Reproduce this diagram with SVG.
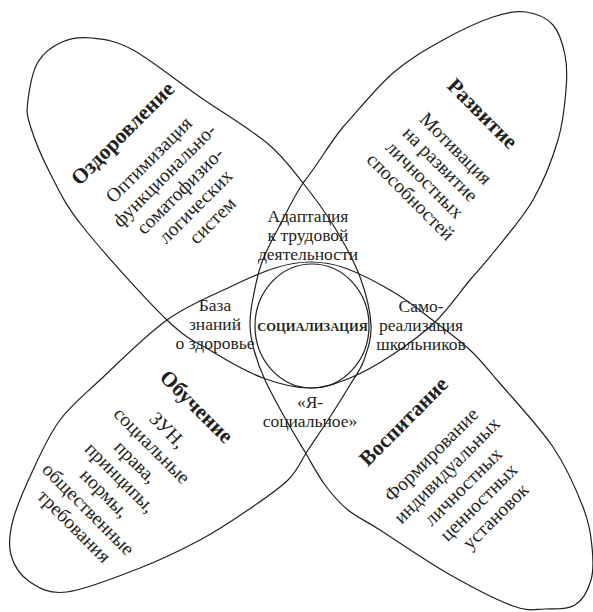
<svg xmlns="http://www.w3.org/2000/svg" width="593" height="612" viewBox="0 0 593 612">
<style>
.ol{fill:none;stroke:#231f20;stroke-width:1.2}
.t{font-family:"Liberation Serif","Times New Roman",serif;fill:#231f20;text-anchor:middle}
.h{font-size:21.5px;font-weight:bold}
.b{font-size:19.5px}
.c{font-size:17.5px}
.s{font-size:12.5px;font-weight:bold}
</style>
<rect width="593" height="612" fill="#fff"/>
<g id="connectors">
<path class="ol" d="M28,100 C29.3,89.5 32.3,71.7 38,62 C43.7,52.3 53,46 62,42 C71,38 80.2,36.7 92,38 C103.8,39.3 115,40.2 133,50 C151,59.8 177.7,81.5 200,97 C222.3,112.5 249.8,128.7 267,143 C284.2,157.3 291.7,168.8 303,183 C314.3,197.2 325.5,212.3 335,228 C344.5,243.7 354,260.8 360,277 C366,293.2 370.3,311.2 371,325 C371.7,338.8 367.5,350 364,360 C360.5,370 355.7,375.5 350,385 C344.3,394.5 337,406.2 330,417 C323,427.8 315,439.5 308,450 C301,460.5 298.5,469.7 288,480 C277.5,490.3 259.7,502 245,512 C230.3,522 217.5,530.7 200,540 C182.5,549.3 162.2,559.3 140,568 C117.8,576.7 85.3,589.7 67,592 C48.7,594.3 39.3,588.2 30,582 C20.7,575.8 13.8,565.3 11,555 C8.2,544.7 9.3,534.2 13,520 C16.7,505.8 25.2,486.7 33,470 C40.8,453.3 48.8,435 60,420 C71.2,405 82.2,396.7 100,380 C117.8,363.3 145.3,335.5 167,320 C188.7,304.5 212,295.7 230,287 C248,278.3 261.7,272.2 275,268 C288.3,263.8 298.3,262 310,262 C321.7,262 330.8,262.8 345,268 C359.2,273.2 380,284 395,293 C410,302 422.5,312.5 435,322 C447.5,331.5 459.7,340.3 470,350 C480.3,359.7 483.2,363.8 497,380 C510.8,396.2 538.7,425.8 553,447 C567.3,468.2 576.5,490.3 583,507 C589.5,523.7 590.7,534.8 592,547 C593.3,559.2 593.8,570.3 591,580 C588.2,589.7 582.7,600.2 575,605 C567.3,609.8 555.3,608.8 545,609 C534.7,609.2 529.3,612 513,606 C496.7,600 469.2,585.7 447,573 C424.8,560.3 396.5,540.5 380,530 C363.5,519.5 357.2,517.5 348,510 C338.8,502.5 332.2,494.7 325,485 C317.8,475.3 311.7,463.2 305,452 C298.3,440.8 291.7,430 285,418 C278.3,406 270.2,391.3 265,380 C259.8,368.7 256.5,359.2 254,350 C251.5,340.8 250.2,333.7 250,325 C249.8,316.3 251,308.5 253,298 C255,287.5 257.5,274.2 262,262 C266.5,249.8 273.2,238.2 280,225 C286.8,211.8 292.5,199.3 303,183 C318,164.7 328,145.3 343,127 C359.7,108.7 376.3,87.5 393,73 C409.7,58.5 426.3,49.3 443,40 C459.7,30.7 479.2,21.7 493,17 C506.8,12.3 516,10.7 526,12 C536,13.3 546.5,17.8 553,25 C559.5,32.2 562.8,44.2 565,55 C567.2,65.8 567.2,75.8 566,90 C564.8,104.2 563.5,121.7 558,140 C552.5,158.3 543.8,181.2 533,200 C522.2,218.8 503.5,239.7 493,253 C482.5,266.3 479.7,268.5 470,280 C460.3,291.5 448,309.5 435,322 C422,334.5 406.2,345.7 392,355 C377.8,364.3 363.7,372.5 350,378 C336.3,383.5 324.5,388 310,388 C295.5,388 279.2,384 263,378 C246.8,372 229,361.7 213,352 C197,342.3 188.7,340.8 167,320 C145.3,299.2 102.5,251.5 83,227 C63.5,202.5 58.8,190 50,173 C41.2,156 33.7,137.2 30,125 C26.3,112.8 26.7,110.5 28,100 Z"/>
</g>
<g id="socializacia">
<ellipse class="ol" cx="312" cy="326" rx="57" ry="62"/>
<text class="t s" x="312.5" y="331">СОЦИАЛИЗАЦИЯ</text>
</g>
<g id="ozdorovlenie">
<text class="t" transform="translate(124,132) rotate(-45)">
<tspan class="h" x="0" y="7">Оздоровление</tspan>
<tspan class="b" x="0" y="43.5">Оптимизация</tspan>
<tspan class="b" x="0" y="65.5">функционально-</tspan>
<tspan class="b" x="0" y="87.5">соматофизио-</tspan>
<tspan class="b" x="0" y="109.5">логических</tspan>
<tspan class="b" x="0" y="131.5">систем</tspan>
</text>
</g>
<g id="razvitie">
<text class="t" transform="translate(486,117) rotate(45)">
<tspan class="h" x="-3" y="7">Развитие</tspan>
<tspan class="b" x="3" y="50">Мотивация</tspan>
<tspan class="b" x="3" y="72">на развитие</tspan>
<tspan class="b" x="3" y="94">личностных</tspan>
<tspan class="b" x="3" y="116">способностей</tspan>
</text>
</g>
<g id="obuchenie">
<text class="t" transform="translate(198,408) rotate(45)">
<tspan class="h" x="0" y="7">Обучение</tspan>
<tspan class="b" x="-4" y="43.5">ЗУН,</tspan>
<tspan class="b" x="-4" y="65.5">социальные</tspan>
<tspan class="b" x="-4" y="88.5">права,</tspan>
<tspan class="b" x="-4" y="110.5">принципы,</tspan>
<tspan class="b" x="-4" y="132.5">нормы,</tspan>
<tspan class="b" x="-4" y="155.5">общественные</tspan>
<tspan class="b" x="-4" y="177.5">требования</tspan>
</text>
</g>
<g id="vospitanie">
<text class="t" transform="translate(405,420) rotate(-45)">
<tspan class="h" x="0" y="7">Воспитание</tspan>
<tspan class="b" x="-4" y="49.5">Формирование</tspan>
<tspan class="b" x="-4" y="71.5">индивидуальных</tspan>
<tspan class="b" x="-4" y="94.5">личностных</tspan>
<tspan class="b" x="-4" y="116.5">ценностных</tspan>
<tspan class="b" x="-4" y="138.5">установок</tspan>
</text>
</g>
<g id="adaptacia">
<text class="t c"><tspan x="308" y="222">Адаптация</tspan><tspan x="308" y="241">к трудовой</tspan><tspan x="308" y="260">деятельности</tspan></text>
</g>
<g id="baza">
<text class="t c"><tspan x="215" y="311">База</tspan><tspan x="215" y="330">знаний</tspan><tspan x="215" y="349">о здоровье</tspan></text>
</g>
<g id="samorealizacia">
<text class="t c"><tspan x="421" y="312">Само-</tspan><tspan x="421" y="331">реализация</tspan><tspan x="421" y="350">школьников</tspan></text>
</g>
<g id="ya-socialnoe">
<text class="t c"><tspan x="310" y="408">«Я-</tspan><tspan x="310" y="427">социальное»</tspan></text>
</g>
</svg>
